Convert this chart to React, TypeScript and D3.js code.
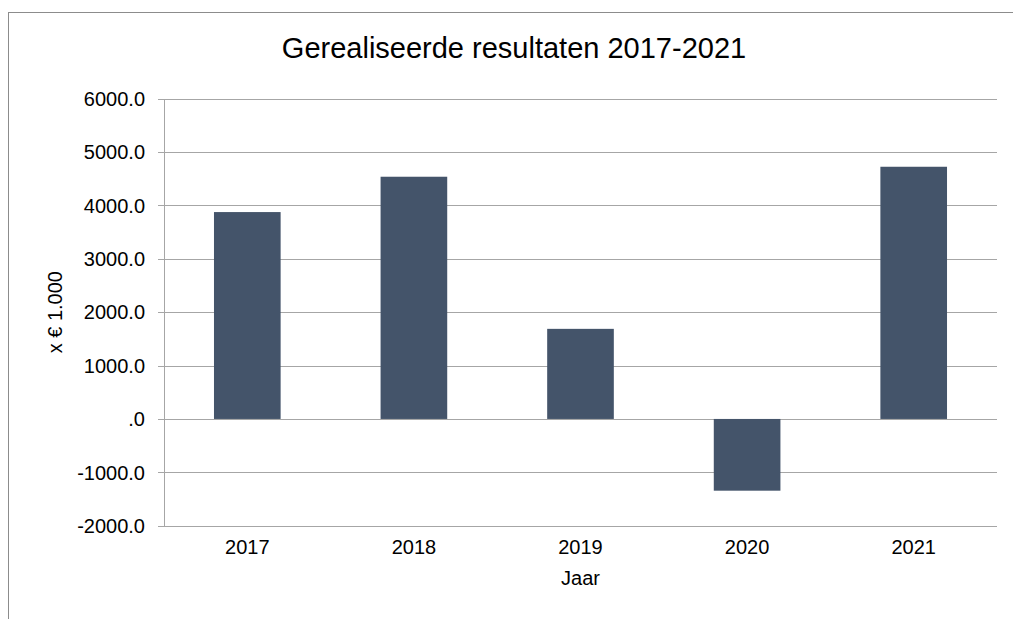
import React, { useEffect, useRef } from 'react';
import * as d3 from 'd3';

const years = ['2017', '2018', '2019', '2020', '2021'];
const results = [3876, 4538, 1688, -1344, 4725];
const yTicks = [-2000, -1000, 0, 1000, 2000, 3000, 4000, 5000, 6000];

const title = 'Gerealiseerde resultaten 2017-2021';
const yLabel = 'x € 1.000';
const xLabel = 'Jaar';

const App = () => {
    const svgRef = useRef<SVGSVGElement>(null);

    useEffect(() => {
        if (!svgRef.current) return;
        const svg = d3.select(svgRef.current);
        svg.selectAll('*').remove();

        const width = 1013;
        const height = 619;
        const font = '"Liberation Sans", Arial, sans-serif';
        const left = 164;
        const right = 997;
        const top = 98.7;
        const bottom = 525.7;

        const x = d3.scaleBand<string>()
            .domain(years)
            .range([left, right])
            .paddingInner(0.6)
            .paddingOuter(0.3);

        const y = d3.scaleLinear()
            .domain([-2000, 6000])
            .range([bottom, top]);

        // outer frame (only top and left edges are visible)
        svg.append('rect')
            .attr('x', 8.5)
            .attr('y', 12.5)
            .attr('width', width + 50)
            .attr('height', height + 50)
            .attr('fill', 'white')
            .attr('stroke', '#8c8c8c')
            .attr('stroke-width', 1);

        // gridlines
        svg.append('g')
            .selectAll('line')
            .data(yTicks)
            .enter()
            .append('line')
            .attr('x1', left - 6)
            .attr('x2', right)
            .attr('y1', d => Math.round(y(d)) + 0.5)
            .attr('y2', d => Math.round(y(d)) + 0.5)
            .attr('stroke', '#a6a6a6')
            .attr('stroke-width', 1);

        // y axis line
        svg.append('line')
            .attr('x1', left + 0.5)
            .attr('x2', left + 0.5)
            .attr('y1', Math.round(top))
            .attr('y2', Math.round(bottom) + 0.5)
            .attr('stroke', '#a6a6a6');

        // bars
        svg.append('g')
            .selectAll('rect')
            .data(results)
            .enter()
            .append('rect')
            .attr('x', (d, i) => x(years[i]) as number)
            .attr('width', x.bandwidth())
            .attr('y', d => y(Math.max(0, d)))
            .attr('height', d => Math.abs(y(d) - y(0)))
            .attr('fill', '#44546a');

        // y tick labels (plain hyphen for negatives, ".0" for zero)
        const fmt = (d: number) => (d === 0 ? '.0' : d.toFixed(1));
        svg.append('g')
            .selectAll('text')
            .data(yTicks)
            .enter()
            .append('text')
            .text(d => fmt(d))
            .attr('x', 145)
            .attr('y', d => y(d))
            .attr('dy', '0.36em')
            .attr('text-anchor', 'end')
            .attr('font-family', font)
            .attr('font-size', 20)
            .attr('fill', '#000');

        // x tick labels
        svg.append('g')
            .selectAll('text')
            .data(years)
            .enter()
            .append('text')
            .text(d => d)
            .attr('x', d => (x(d) as number) + x.bandwidth() / 2)
            .attr('y', 554)
            .attr('text-anchor', 'middle')
            .attr('font-family', font)
            .attr('font-size', 20)
            .attr('fill', '#000');

        // title
        svg.append('text')
            .text(title)
            .attr('x', 514)
            .attr('y', 58)
            .attr('text-anchor', 'middle')
            .attr('font-family', font)
            .attr('font-size', 29)
            .attr('fill', '#000');

        // axis titles
        svg.append('text')
            .text(xLabel)
            .attr('x', (left + right) / 2)
            .attr('y', 585)
            .attr('text-anchor', 'middle')
            .attr('font-family', font)
            .attr('font-size', 20)
            .attr('fill', '#000');

        svg.append('text')
            .text(yLabel)
            .attr('transform', `translate(62, ${(top + bottom) / 2}) rotate(-90)`)
            .attr('text-anchor', 'middle')
            .attr('font-family', font)
            .attr('font-size', 20)
            .attr('fill', '#000');
    }, []);

    return (
        <svg
            ref={svgRef}
            width={1013}
            height={619}
            style={{ position: 'absolute', left: 0, top: 0, background: 'white' }}
        />
    );
};

export default App;
